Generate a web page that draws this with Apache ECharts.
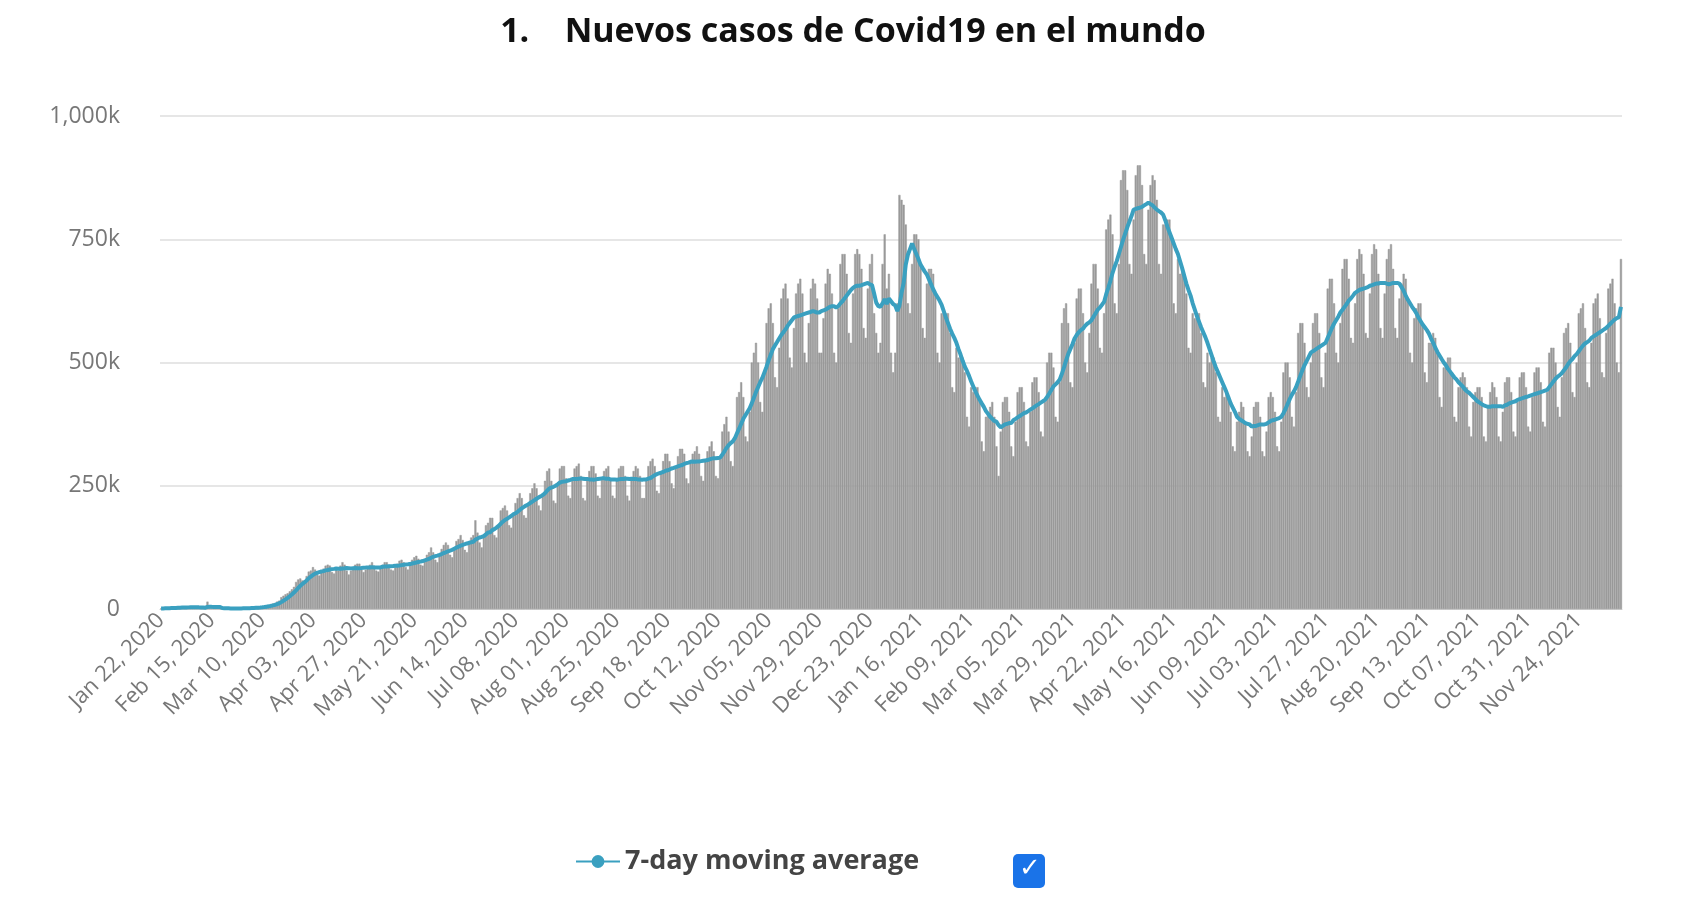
<!DOCTYPE html>
<html>
<head>
<meta charset="UTF-8">
<title>Nuevos casos de Covid19 en el mundo</title>
<script src="https://cdn.jsdelivr.net/npm/echarts@6/dist/echarts.min.js"></script>
<style>
  html, body { margin: 0; padding: 0; background: #fff; }
  #chart { width: 1706px; height: 900px; }
</style>
</head>
<body>
<div id="chart"></div>
<script>
// first day of data, one bar per day
var startDate = '2020-01-22';
var monthNames = ['Jan','Feb','Mar','Apr','May','Jun','Jul','Aug','Sep','Oct','Nov','Dec'];
var yTicks = [0, 250, 500, 750, 1000];
// daily new cases in thousands, one row per week (Wed..Tue)
var dailyCases = [
  1,1,2,2,2,3,3,  2,3,4,3,4,3,4,  4,3,3,3,3,2,2,  2,15,5,2,2,2,2,
  1,1,1,1,1,1,1,  1,1,1,2,2,2,2,  2,2,3,4,4,4,5,  6,7,8,10,11,12,15,
  17,24,27,30,32,36,40,  45,55,60,62,58,58,67,  76,78,85,80,70,68,75,  82,88,90,88,75,72,80,
  78,88,95,90,78,70,78,  80,90,92,92,80,75,80,  82,90,95,88,78,76,82,  90,95,95,90,80,78,85,
  92,98,100,95,85,80,88,  100,105,108,102,90,88,98,  110,115,125,115,100,95,108,  122,130,135,130,110,105,125,
  138,142,150,140,120,115,135,  145,150,180,155,135,125,145,  170,175,185,185,150,145,170,  200,205,210,200,170,165,195,
  215,225,235,225,190,185,210,  235,245,255,245,210,200,230,  260,280,285,260,220,215,250,  285,290,290,265,230,225,260,
  285,290,295,270,225,220,260,  280,290,290,275,230,225,265,  280,285,290,265,230,225,260,  285,290,290,270,230,220,265,
  280,290,285,270,225,225,265,  290,300,305,290,240,235,275,  300,315,315,300,255,245,285,  310,325,325,315,265,255,295,
  315,320,330,315,270,260,300,  320,330,340,320,270,265,305,  360,375,390,360,300,290,350,  430,440,460,430,350,340,400,
  500,520,540,500,420,400,480,  580,610,620,580,470,450,530,  630,650,660,630,510,490,570,  640,660,670,640,520,500,580,
  650,670,660,630,520,520,590,  660,690,680,640,520,500,610,  700,720,720,680,560,540,640,  720,730,720,690,570,550,650,
  700,720,600,560,520,540,700,  760,650,680,520,480,520,620,  840,830,820,780,620,600,700,  760,760,750,700,570,550,660,
  690,690,680,640,520,500,600,  600,600,600,560,450,440,530,  510,520,510,480,390,370,450,  440,450,450,420,340,320,390,
  400,410,420,390,330,270,360,  420,430,430,400,330,310,380,  440,450,450,420,340,330,400,  460,470,470,440,360,350,420,
  500,520,520,490,390,380,460,  580,610,620,580,460,450,540,  630,650,650,600,500,480,560,  660,700,700,650,530,520,600,
  770,790,800,760,620,600,700,  870,890,890,850,700,680,790,  880,900,900,860,720,700,810,  860,880,870,830,700,680,780,
  780,790,790,750,620,600,710,  680,690,680,640,530,520,600,  590,600,600,560,460,450,520,  500,510,510,480,390,380,450,
  430,440,430,400,330,320,380,  400,420,410,380,320,310,350,  410,420,420,390,320,310,360,  430,440,430,400,330,320,380,
  480,500,500,470,390,370,440,  560,580,580,540,450,430,500,  580,600,600,560,470,450,520,  650,670,670,620,520,500,580,
  690,710,710,670,550,540,620,  710,730,720,680,560,550,640,  720,740,730,680,570,550,640,  710,730,740,690,570,550,630,
  660,680,670,630,520,500,590,  610,620,620,580,480,460,540,  540,560,550,520,430,410,490,  500,510,510,480,390,380,450,
  470,480,470,450,370,350,420,  440,450,450,430,350,340,410,  440,460,450,430,350,340,400,  460,470,470,440,360,350,420,
  470,480,480,450,370,360,430,  480,490,490,460,380,370,440,  520,530,530,500,410,390,470,  560,570,580,540,440,430,500,
  600,610,620,570,460,450,540,  620,630,640,590,480,470,560,  650,660,670,620,500,480,710
];

var dates = [];
var d = new Date(startDate + 'T12:00:00Z');
for (var i = 0; i < dailyCases.length; i++) {
  var dd = d.getUTCDate();
  dates.push(monthNames[d.getUTCMonth()] + ' ' + (dd < 10 ? '0' + dd : dd) + ', ' + d.getUTCFullYear());
  d.setUTCDate(dd + 1);
}

// 7-day trailing average of the daily values
var movingAvg = dailyCases.map(function (v, i) {
  var s = 0, n = 0;
  for (var k = Math.max(0, i - 6); k <= i; k++) { s += dailyCases[k]; n++; }
  return +(s / n).toFixed(1);
});

var chart = echarts.init(document.getElementById('chart'));
chart.setOption({
  animation: false,
  title: {
    text: '1.    Nuevos casos de Covid19 en el mundo',
    left: 'center', top: 10,
    textStyle: { fontFamily: 'Open Sans', fontSize: 34, fontWeight: 'bold', color: '#111' }
  },
  legend: {
    bottom: 20, left: 570,
    data: ['7-day moving average'],
    itemWidth: 44, itemHeight: 16,
    textStyle: { fontFamily: 'Open Sans', fontSize: 27, fontWeight: 'bold', color: '#444' }
  },
  graphic: [{
    type: 'group', left: 1013, bottom: 12,
    children: [
      { type: 'rect', shape: { x: 0, y: 0, width: 32, height: 34, r: 5 }, style: { fill: '#1a73e8' } },
      { type: 'text', left: 6, top: 2, style: { text: '✓', fill: '#fff', font: 'bold 26px DejaVu Sans' } }
    ]
  }],
  grid: { left: 160, right: 84, top: 116, bottom: 291 },
  xAxis: {
    type: 'category',
    data: dates,
    axisTick: { show: false },
    axisLine: { lineStyle: { color: '#ccc' } },
    axisLabel: {
      interval: 23, rotate: 45, color: '#777',
      fontFamily: 'Open Sans', fontSize: 22
    }
  },
  yAxis: {
    type: 'value', min: yTicks[0], max: yTicks[yTicks.length - 1], interval: 250,
    splitLine: { lineStyle: { color: '#e6e6e6', width: 2 } },
    axisLabel: {
      color: '#777', fontFamily: 'Open Sans', fontSize: 23, margin: 40,
      formatter: function (v) { return v === 0 ? '0' : (v >= 1000 ? '1,000k' : v + 'k'); }
    }
  },
  series: [{
    name: 'Daily cases', type: 'bar', data: dailyCases,
    barCategoryGap: '0%',
    itemStyle: { color: '#9a9a9a', borderColor: '#9a9a9a', borderWidth: 0.5 }
  }, {
    name: '7-day moving average', type: 'line', data: movingAvg,
    symbol: 'circle', symbolSize: 12, showSymbol: false,
    lineStyle: { color: '#3aa0c0', width: 4 },
    itemStyle: { color: '#3aa0c0' }
  }]
});
</script>
</body>
</html>
